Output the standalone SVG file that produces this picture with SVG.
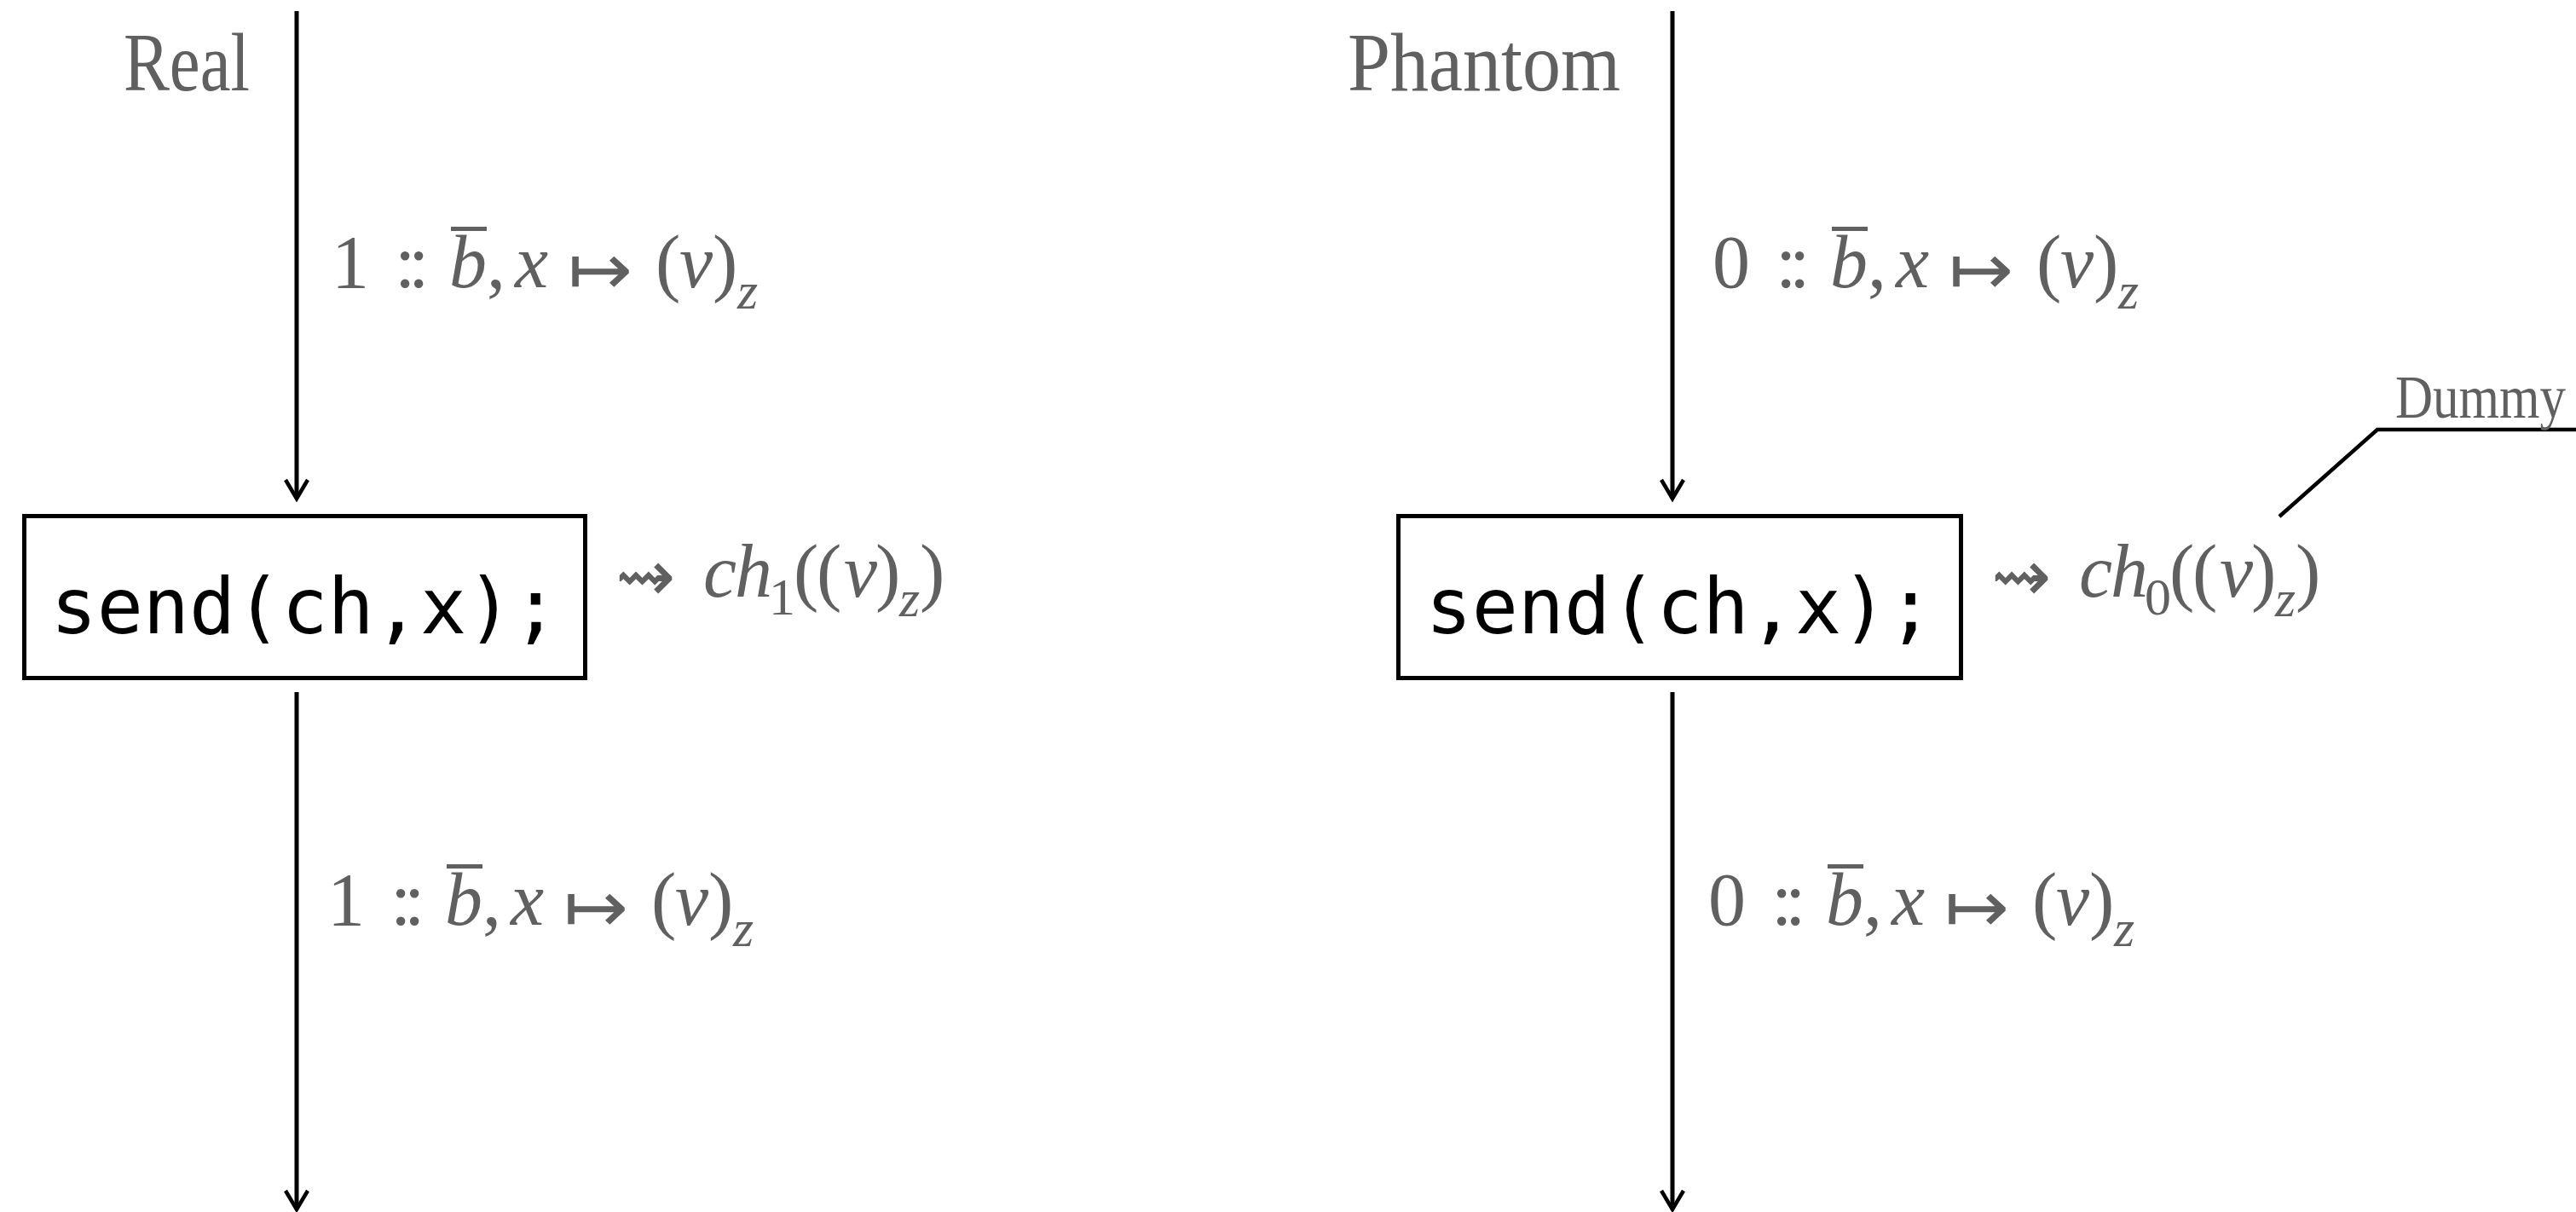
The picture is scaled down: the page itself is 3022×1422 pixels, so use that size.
<svg xmlns="http://www.w3.org/2000/svg" width="3022" height="1422" viewBox="0 0 3022 1422">
<style>
  .bg{fill:#ffffff}
  .ln{stroke:#000;stroke-width:5;fill:none}
  .box{stroke:#000;stroke-width:5;fill:#fff}
  .code{font-family:"DejaVu Sans Mono","Liberation Mono",monospace;font-size:90px;fill:#000;text-anchor:middle}
  .title{font-family:"Liberation Serif","Times New Roman",serif;fill:#606060}
  .m{font-family:"Liberation Serif","Times New Roman",serif;font-size:88px;fill:#606060}
  .i{font-style:italic}
  .sub{font-size:62px}
  .arr{font-family:"DejaVu Sans",sans-serif;font-size:84px;fill:#606060}
  .bar{fill:#606060}
</style>
<defs>
  <marker id="ah" markerUnits="userSpaceOnUse" viewBox="-30 -20 40 40" refX="0" refY="0" markerWidth="40" markerHeight="40" orient="auto">
    <path d="M -22 -13 L 0 0 L -22 13" fill="none" stroke="#000" stroke-width="4.5" stroke-linejoin="miter"/>
  </marker>
  <g id="lab">
    <text class="m" y="337"><tspan x="463">:</tspan><tspan x="479">:</tspan><tspan class="i" x="527">b</tspan><tspan x="571">,</tspan><tspan class="i" x="604">x</tspan></text>
    <rect class="bar" x="529" y="266" width="42" height="5"/>
    <text class="arr" x="666" y="345" textLength="76" lengthAdjust="spacingAndGlyphs">↦</text>
    <text class="m" y="337"><tspan x="769">(</tspan><tspan class="i" x="797">v</tspan><tspan x="836">)</tspan></text>
    <text class="m i sub" x="865" y="362">z</text>
  </g>
</defs>
<rect class="bg" x="0" y="0" width="3022" height="1422"/>

<g id="connectors">
  <line class="ln" x1="348" y1="13" x2="348" y2="585" marker-end="url(#ah)"/>
  <line class="ln" x1="348" y1="812" x2="348" y2="1419" marker-end="url(#ah)"/>
  <line class="ln" x1="1962" y1="13" x2="1962" y2="585" marker-end="url(#ah)"/>
  <line class="ln" x1="1962" y1="812" x2="1962" y2="1419" marker-end="url(#ah)"/>
  <polyline class="ln" points="2674,606 2789,504 3030,504" style="stroke-width:4.5"/>
</g>

<g id="title-real">
  <text class="title" x="145" y="106" font-size="97" textLength="148" lengthAdjust="spacingAndGlyphs">Real</text>
</g>
<g id="title-phantom">
  <text class="title" x="1581" y="106" font-size="97" textLength="320" lengthAdjust="spacingAndGlyphs">Phantom</text>
</g>
<g id="label-dummy">
  <text class="title" transform="translate(2810,490) scale(0.86,1)" font-size="71">Dummy</text>
</g>

<g id="node-send-real">
  <rect class="box" x="28.5" y="605.5" width="658" height="190"/>
  <text class="code" x="357.5" y="743">send(ch,x);</text>
</g>
<g id="node-send-phantom">
  <rect class="box" x="1640.5" y="605.5" width="660" height="190"/>
  <text class="code" x="1970.5" y="743">send(ch,x);</text>
</g>

<g id="label-real-in">
  <text class="m" x="389" y="337">1</text>
  <use href="#lab"/>
</g>
<g id="label-real-out" transform="translate(-5,748)">
  <text class="m" x="389" y="337">1</text>
  <use href="#lab"/>
</g>
<g id="label-phantom-in" transform="translate(1620,0)">
  <text class="m" x="389" y="337">0</text>
  <use href="#lab"/>
</g>
<g id="label-phantom-out" transform="translate(1615,748)">
  <text class="m" x="389" y="337">0</text>
  <use href="#lab"/>
</g>

<g id="effect-real" transform="translate(-1614,0)">
  <text class="arr" x="2336" y="705">⇝</text>
  <text class="m" y="700"><tspan class="i" x="2439">c</tspan><tspan class="i" x="2476">h</tspan></text>
  <text class="m sub" x="2516" y="721">1</text>
  <text class="m" y="700"><tspan x="2545">(</tspan><tspan x="2572">(</tspan><tspan class="i" x="2604">v</tspan><tspan x="2641">)</tspan></text>
  <text class="m i sub" x="2669" y="723">z</text>
  <text class="m" x="2693" y="700">)</text>
</g>
<g id="effect-phantom">
  <text class="arr" x="2336" y="705">⇝</text>
  <text class="m" y="700"><tspan class="i" x="2439">c</tspan><tspan class="i" x="2476">h</tspan></text>
  <text class="m sub" x="2516" y="721">0</text>
  <text class="m" y="700"><tspan x="2545">(</tspan><tspan x="2572">(</tspan><tspan class="i" x="2604">v</tspan><tspan x="2641">)</tspan></text>
  <text class="m i sub" x="2669" y="723">z</text>
  <text class="m" x="2693" y="700">)</text>
</g>
</svg>
